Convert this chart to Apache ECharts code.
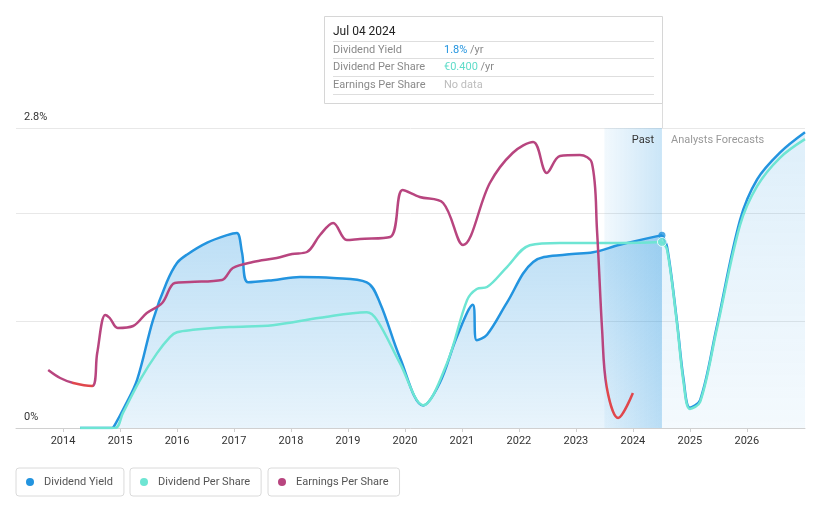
<!DOCTYPE html>
<html><head><meta charset="utf-8">
<script src="https://cdn.jsdelivr.net/npm/echarts@6/dist/echarts.min.js"></script>
<style>html,body{margin:0;padding:0;background:#fff}#c{width:821px;height:508px}</style>
</head><body><div id="c"></div>
<script>
// ---- data ----
const tickYears = [2014,2015,2016,2017,2018,2019,2020,2021,2022,2023,2024,2025,2026];
const yTickLabels = [0, 2.8];

const yieldPastYears = [2014.30,2014.86,2014.91,2015.09,2015.30,2015.58,2015.82,2016.00,2016.18,2016.53,2016.88,2017.05,2017.14,2017.25,2017.68,2018.16,2018.74,2019.33,2019.56,2019.91,2020.32,2020.61,2020.91,2021.19,2021.26,2021.44,2021.79,2022.25,2022.84,2023.30,2023.77,2024.51];
const yieldPastValues = [0,0,0.03,0.21,0.45,1.01,1.36,1.54,1.62,1.73,1.80,1.82,1.64,1.36,1.38,1.41,1.40,1.36,1.17,0.66,0.21,0.42,0.85,1.15,0.82,0.87,1.17,1.55,1.62,1.64,1.71,1.80];
const yieldFcYears = [2024.51,2024.60,2024.77,2024.89,2025.00,2025.18,2025.47,2025.88,2026.18,2026.58,2027.02];
const yieldFcValues = [1.80,1.69,1.01,0.45,0.19,0.26,0.94,1.94,2.32,2.57,2.76];

const dpsPastYears = [2014.30,2014.91,2015.05,2015.35,2015.65,2015.88,2016.00,2016.28,2016.93,2017.68,2018.51,2019.33,2019.51,2019.91,2020.32,2020.74,2021.09,2021.26,2021.44,2021.79,2022.19,2022.72,2023.77,2024.51];
const dpsPastValues = [0,0,0.032,0.103,0.161,0.196,0.206,0.211,0.217,0.221,0.237,0.249,0.232,0.140,0.049,0.140,0.275,0.299,0.303,0.346,0.393,0.398,0.398,0.400];
const dpsFcYears = [2024.51,2024.60,2024.77,2024.89,2025.00,2025.18,2025.47,2025.88,2026.18,2026.58,2027.02];
const dpsFcValues = [0.400,0.383,0.228,0.097,0.041,0.056,0.211,0.436,0.520,0.581,0.621];

const epsYears = [2013.74,2013.95,2014.18,2014.51,2014.60,2014.74,2014.82,2014.96,2015.23,2015.47,2015.74,2015.96,2016.23,2016.79,2016.98,2017.33,2017.75,2018.02,2018.28,2018.51,2018.74,2018.98,2019.21,2019.74,2019.96,2020.26,2020.67,2021.02,2021.49,2021.89,2022.25,2022.49,2022.72,2023.07,2023.28,2023.37,2023.46,2023.54,2023.74,2024.00];
const epsValues = [0.58,0.50,0.45,0.42,0.75,1.13,1.10,1.00,1.02,1.15,1.25,1.45,1.46,1.48,1.60,1.66,1.70,1.74,1.76,1.93,2.05,1.88,1.89,1.91,2.38,2.31,2.25,1.83,2.45,2.75,2.86,2.55,2.72,2.73,2.65,1.98,0.98,0.41,0.10,0.35];
const epsDeclineRanges = [[2014.15, 2014.52], [2023.53, 2024.1]];

const pastBand = [2023.5, 2024.51];
const tooltipDate = 'Jul 04 2024';
const tooltipYield = '1.8%';
const tooltipDps = '€0.400';

// ---- style ----
const BLUE = '#2394df', CYAN = '#6ee5d3', MAGENTA = '#b8457f', RED = '#e0474c';
const FONT = 'Roboto';
const zip = (xs, ys) => xs.map((x, i) => [x, ys[i]]);
const grad = (a, b) => new echarts.graphic.LinearGradient(0, 0, 0, 1, [{offset: 0, color: a}, {offset: 1, color: b}]);

const chart = echarts.init(document.getElementById('c'));
const epsPieces = [];
let prev = -Infinity;
epsDeclineRanges.forEach(([a, b]) => {
  epsPieces.push({gte: prev, lt: a, color: MAGENTA});
  epsPieces.push({gte: a, lt: b, color: RED});
  prev = b;
});
epsPieces.push({gte: prev, color: MAGENTA});

const lineBase = {type: 'line', smooth: 0.35, symbol: 'none', showSymbol: false, silent: true};
const option = {
  animation: false,
  textStyle: {fontFamily: FONT},
  grid: {left: 16, right: 16, top: 128, bottom: 80},
  xAxis: {
    type: 'value', min: 2013.175, max: 2027.02,
    axisLine: {show: true, lineStyle: {color: '#d0d0d0', width: 1}},
    axisTick: {show: true, customValues: tickYears, length: 4, lineStyle: {color: '#d0d0d0'}},
    axisLabel: {customValues: tickYears, formatter: v => String(Math.round(v)), color: '#333', fontSize: 11, margin: 8, fontFamily: FONT},
    splitLine: {show: false}
  },
  yAxis: [
    {type: 'value', min: 0, max: 2.8, interval: 1,
     axisLine: {show: false}, axisTick: {show: false},
     axisLabel: {customValues: yTickLabels, inside: true, margin: 8, formatter: v => v + '%', color: '#333', fontSize: 11,
                 verticalAlign: 'bottom', padding: [0, 0, 5, 0], fontFamily: FONT},
     splitLine: {show: true, lineStyle: {color: '#e8e8e8', width: 1}}},
    {type: 'value', min: 0, max: 0.645, show: false, splitLine: {show: false}},
    {type: 'value', min: 0, max: 3.0, show: false, splitLine: {show: false}}
  ],
  legend: [
    ['Dividend Yield', BLUE, 16],
    ['Dividend Per Share', CYAN, 130],
    ['Earnings Per Share', MAGENTA, 268]
  ].map(([n, c, l]) => ({
    left: l, top: 468, orient: 'horizontal', icon: 'circle', itemWidth: 8, itemHeight: 8,
    padding: [7, 11, 7, 10], borderColor: '#dadada', borderWidth: 1, borderRadius: 3,
    selectedMode: false,
    textStyle: {color: '#555', fontSize: 11, lineHeight: 13, fontFamily: FONT, padding: [1, 0, 0, 5]},
    data: [{name: n, itemStyle: {color: c}}]
  })),
  visualMap: {type: 'piecewise', show: false, seriesIndex: 4, dimension: 0, pieces: epsPieces},
  series: [
    Object.assign({}, lineBase, {name: 'Dividend Yield', data: zip(yieldPastYears, yieldPastValues), z: 2,
      color: BLUE, lineStyle: {color: BLUE, width: 2.5},
      areaStyle: {color: grad('rgba(35,148,223,0.30)', 'rgba(35,148,223,0.10)'), opacity: 1},
      markArea: {silent: true, z: 1,
        itemStyle: {color: new echarts.graphic.LinearGradient(0, 0, 1, 0, [{offset: 0, color: 'rgba(35,148,223,0.06)'}, {offset: 1, color: 'rgba(35,148,223,0.24)'}])},
        data: [[{xAxis: pastBand[0]}, {xAxis: pastBand[1]}]]}}),
    Object.assign({}, lineBase, {name: 'Dividend Yield', data: zip(yieldFcYears, yieldFcValues), z: 2,
      color: BLUE, lineStyle: {color: BLUE, width: 2.5},
      areaStyle: {color: grad('rgba(35,148,223,0.15)', 'rgba(35,148,223,0.05)'), opacity: 1}}),
    Object.assign({}, lineBase, {name: 'Dividend Per Share', yAxisIndex: 1, data: zip(dpsPastYears, dpsPastValues), z: 3,
      color: CYAN, lineStyle: {color: CYAN, width: 2.5}}),
    Object.assign({}, lineBase, {name: 'Dividend Per Share', yAxisIndex: 1, data: zip(dpsFcYears, dpsFcValues), z: 3,
      color: CYAN, lineStyle: {color: CYAN, width: 2.5}}),
    Object.assign({}, lineBase, {name: 'Earnings Per Share', yAxisIndex: 2, data: zip(epsYears, epsValues), z: 4,
      color: MAGENTA, lineStyle: {width: 2.5}}),
    {type: 'scatter', silent: true, z: 5, symbolSize: 7, itemStyle: {color: BLUE},
      data: [[yieldPastYears[yieldPastYears.length - 1], yieldPastValues[yieldPastValues.length - 1]]]},
    {type: 'scatter', silent: true, z: 5, yAxisIndex: 1, symbolSize: 9, itemStyle: {color: CYAN, borderColor: '#fff', borderWidth: 1},
      data: [[dpsPastYears[dpsPastYears.length - 1], dpsPastValues[dpsPastValues.length - 1]]]}
  ]
};
chart.setOption(option);

const xEnd = Math.round(chart.convertToPixel({xAxisIndex: 0}, pastBand[1]));
const yTop = Math.round(chart.convertToPixel({yAxisIndex: 0}, 2.8));
const boxL = 324, boxT = 16, boxB = 103;
const rowX = 333, valX = 444;
const txt = (x, y, s, fill, extra) => Object.assign({type: 'text', x: x, y: y,
  style: {text: s, fill: fill, font: '11px ' + FONT, textVerticalAlign: 'middle', verticalAlign: 'middle'}}, extra || {});
const sep = y => ({type: 'line', shape: {x1: rowX, y1: y, x2: xEnd - 8, y2: y}, style: {stroke: '#dedede', lineWidth: 1}});
chart.setOption({
  graphic: [
    {type: 'line', z: 50, shape: {x1: xEnd + 0.5, y1: boxB, x2: xEnd + 0.5, y2: yTop}, style: {stroke: '#dcdcdc', lineWidth: 1}},
    {type: 'rect', z: 50, shape: {x: boxL + 0.5, y: boxT + 0.5, width: xEnd - boxL, height: boxB - boxT}, style: {fill: '#fff', stroke: '#d6d6d6', lineWidth: 1}},
    Object.assign(txt(rowX, 32, tooltipDate, '#222', {}), {z: 51, style: {text: tooltipDate, fill: '#222', font: '12px ' + FONT, verticalAlign: 'middle'}}),
    Object.assign(sep(41.5), {z: 51}), Object.assign(sep(58.5), {z: 51}), Object.assign(sep(76.5), {z: 51}), Object.assign(sep(94.5), {z: 51}),
    Object.assign(txt(rowX, 50, 'Dividend Yield', '#8a8a8a'), {z: 51}),
    Object.assign(txt(rowX, 67, 'Dividend Per Share', '#8a8a8a'), {z: 51}),
    Object.assign(txt(rowX, 85, 'Earnings Per Share', '#8a8a8a'), {z: 51}),
    {type: 'text', z: 51, x: valX, y: 50, style: {rich: {a: {fill: BLUE, font: '11px ' + FONT}, b: {fill: '#8a8a8a', font: '11px ' + FONT}}, text: '{a|' + tooltipYield + '}{b| /yr}', verticalAlign: 'middle'}},
    {type: 'text', z: 51, x: valX, y: 67, style: {rich: {a: {fill: '#5fdcc9', font: '11px ' + FONT}, b: {fill: '#8a8a8a', font: '11px ' + FONT}}, text: '{a|' + tooltipDps + '}{b| /yr}', verticalAlign: 'middle'}},
    Object.assign(txt(valX, 85, 'No data', '#bdbdbd'), {z: 51}),
    {type: 'text', z: 51, x: xEnd - 8, y: 140, style: {text: 'Past', fill: '#333', font: '11px ' + FONT, align: 'right', verticalAlign: 'middle'}},
    {type: 'text', z: 51, x: xEnd + 9, y: 140, style: {text: 'Analysts Forecasts', fill: '#999', font: '11px ' + FONT, align: 'left', verticalAlign: 'middle'}}
  ]
});
</script></body></html>
